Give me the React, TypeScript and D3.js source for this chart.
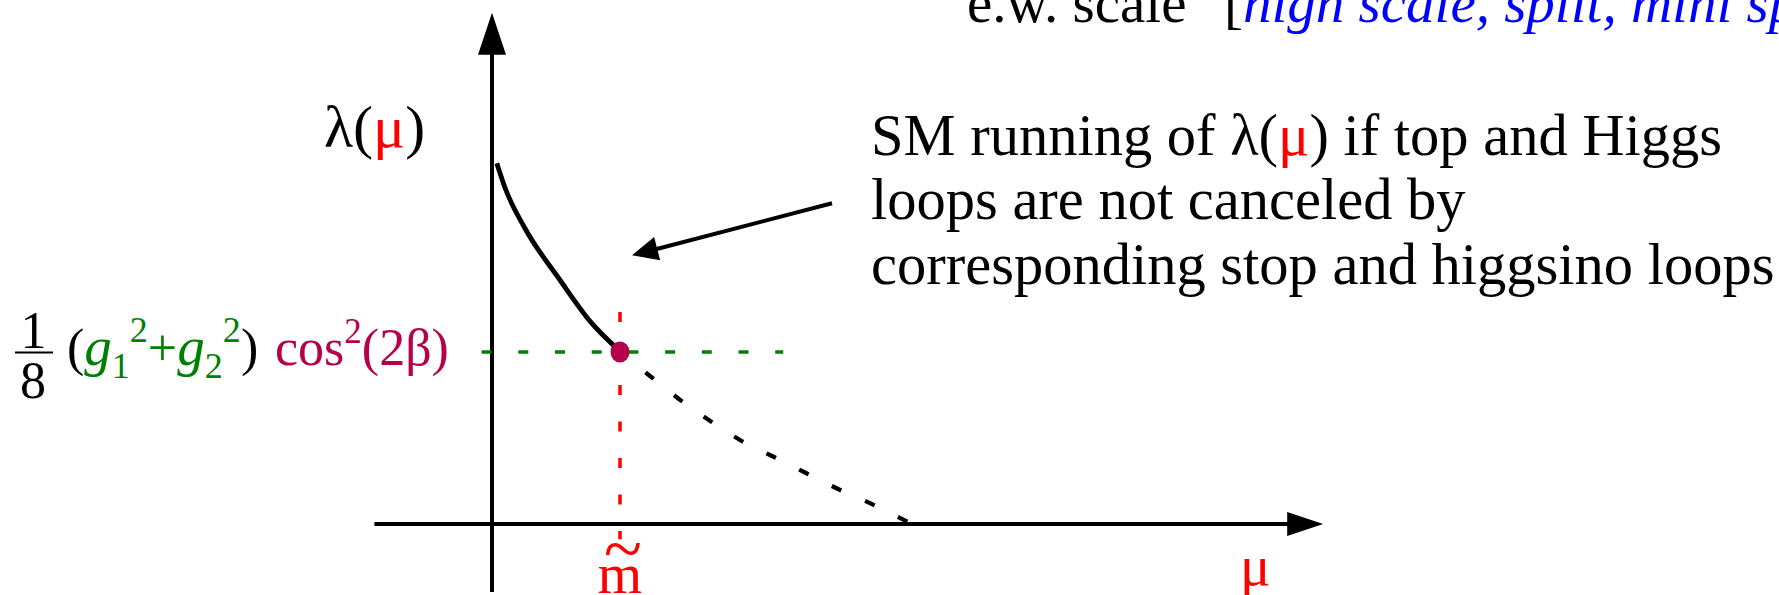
import React from 'react'
import * as d3 from 'd3'

// lambda(mu) running sketch
const solidMu = [0.06, 0.16, 0.41, 0.85, 1.23, 1.61]
const solidLambda = [4.51, 4.21, 3.7, 3.05, 2.53, 2.15]
const dottedMu = [1.61, 1.975, 2.34, 2.71, 3.1, 3.5, 3.9, 4.3, 4.725, 5.2]
const dottedLambda = [2.15, 1.85, 1.56, 1.3, 1.05, 0.85, 0.65, 0.45, 0.26, 0.025]

const mTilde = 1.6
const lambdaMatch = 2.15
const muAxisExtent = [-1.47, 10.39]
const lambdaAxisExtent = [-0.85, 6.39]
const greenExtent = [-0.13, 3.64]
const redExtent = [2.65, -0.19]
const pointerFrom = [4.25, 4.01]
const pointerTo = [1.75, 3.36]

const annotationLines = [
  'SM running of ',
  'loops are not canceled by',
  'corresponding stop and higgsino loops'
]

const W = 1779
const H = 595
const serif = '"Liberation Serif", "Times New Roman", Times, serif'
const crimson = '#b5004b'
const green = '#008000'

const xScale = d3.scaleLinear().domain([0, 10]).range([492, 1292])
const yScale = d3.scaleLinear().domain([0, 5]).range([524, 124])

function arrowHead (x1: number, y1: number, x2: number, y2: number, len: number, half: number) {
  const a = Math.atan2(y2 - y1, x2 - x1)
  const bx = x2 - len * Math.cos(a)
  const by = y2 - len * Math.sin(a)
  const px = -Math.sin(a) * half
  const py = Math.cos(a) * half
  return `${x2},${y2} ${bx + px},${by + py} ${bx - px},${by - py}`
}

export default function App () {
  const line = d3.line<number>()
    .x((d) => xScale(d))
    .curve(d3.curveMonotoneX)

  const solidPath = line.y((d, i) => yScale(solidLambda[i]))(solidMu) || ''
  const dottedPath = line.y((d, i) => yScale(dottedLambda[i]))(dottedMu) || ''

  const ox0 = xScale(muAxisExtent[0])
  const ox1 = xScale(muAxisExtent[1])
  const oy = yScale(0)
  const ax = xScale(0)
  const ay0 = yScale(lambdaAxisExtent[0])
  const ay1 = yScale(lambdaAxisExtent[1])

  const px1 = xScale(pointerFrom[0])
  const py1 = yScale(pointerFrom[1])
  const px2 = xScale(pointerTo[0])
  const py2 = yScale(pointerTo[1])

  return (
    <svg width={W} height={H} style={{ position: 'absolute', left: 0, top: 0, background: '#fff' }}
      fontFamily={serif}>
      {/* header, clipped at the top */}
      <text x={967} y={22} fontSize={57}>
        e.w. scale
        <tspan x={1224}>[</tspan>
        <tspan fill='#0000ff' fontStyle='italic'>high scale, split, mini split]</tspan>
      </text>

      {/* axes */}
      <line x1={ox0} y1={oy} x2={ox1 - 30} y2={oy} stroke='#000' strokeWidth={4} />
      <polygon points={arrowHead(ox0, oy, ox1, oy, 36, 12)} fill='#000' />
      <line x1={ax} y1={ay0} x2={ax} y2={ay1 + 35} stroke='#000' strokeWidth={4} />
      <polygon points={arrowHead(ax, ay0, ax, ay1, 42, 14)} fill='#000' />

      {/* reference lines */}
      <line x1={xScale(greenExtent[0])} y1={yScale(lambdaMatch)} x2={xScale(greenExtent[1])} y2={yScale(lambdaMatch)}
        stroke={green} strokeWidth={3.5} strokeDasharray='10 26.7' />
      <line x1={xScale(mTilde)} y1={yScale(redExtent[0])} x2={xScale(mTilde)} y2={yScale(redExtent[1])}
        stroke='#ff0000' strokeWidth={3.5} strokeDasharray='10 26.5' />

      {/* curves */}
      <path d={solidPath} fill='none' stroke='#000' strokeWidth={4.8} />
      <path d={dottedPath} fill='none' stroke='#000' strokeWidth={4.2} strokeDasharray='10.5 26' strokeDashoffset={4.5} />
      <ellipse cx={xScale(mTilde)} cy={yScale(lambdaMatch)} rx={9.5} ry={10.5} fill={crimson} />

      {/* pointer arrow */}
      <line x1={px1} y1={py1} x2={px2 + 20} y2={py2 - 5} stroke='#000' strokeWidth={4} />
      <polygon points={arrowHead(px1, py1, px2, py2, 26, 12)} fill='#000' />

      {/* annotation */}
      <text x={871} y={155} fontSize={58.5}>
        {annotationLines[0]}λ(<tspan fill='#ff0000'>μ</tspan>) if top and Higgs
      </text>
      <text x={871} y={219} fontSize={58.5}>{annotationLines[1]}</text>
      <text x={871} y={284} fontSize={58.5}>{annotationLines[2]}</text>

      {/* y label */}
      <text x={324} y={147} fontSize={60}>
        λ(<tspan fill='#ff0000'>μ</tspan>)
      </text>

      {/* formula label */}
      <text x={33.5} y={348} fontSize={52} textAnchor='middle'>1</text>
      <line x1={15} y1={352.5} x2={53} y2={352.5} stroke='#000' strokeWidth={2} />
      <text x={33} y={398} fontSize={52} textAnchor='middle'>8</text>
      <text x={67} y={365} fontSize={52}>
        (
        <tspan fill={green} fontStyle='italic' fontSize={55}>g</tspan>
        <tspan fill={green} fontSize={36} dy={13}>1</tspan>
        <tspan fill={green} fontSize={36} dy={-36}>2</tspan>
        <tspan fill={green} dy={23}>+</tspan>
        <tspan fill={green} fontStyle='italic' fontSize={55}>g</tspan>
        <tspan fill={green} fontSize={36} dy={13}>2</tspan>
        <tspan fill={green} fontSize={36} dy={-36}>2</tspan>
        <tspan x={241} dy={23}>)</tspan>
        <tspan fill={crimson} x={275}>cos</tspan>
        <tspan fill={crimson} fontSize={35} dy={-22}>2</tspan>
        <tspan fill={crimson} dy={22}>(2β)</tspan>
      </text>

      {/* x labels */}
      <text x={623} y={572} fontSize={70} fill='#ff0000' textAnchor='middle'>~</text>
      <text x={620} y={593} fontSize={57} fill='#ff0000' textAnchor='middle'>m</text>
      <text x={1240} y={585} fontSize={57} fill='#ff0000'>μ</text>
    </svg>
  )
}
